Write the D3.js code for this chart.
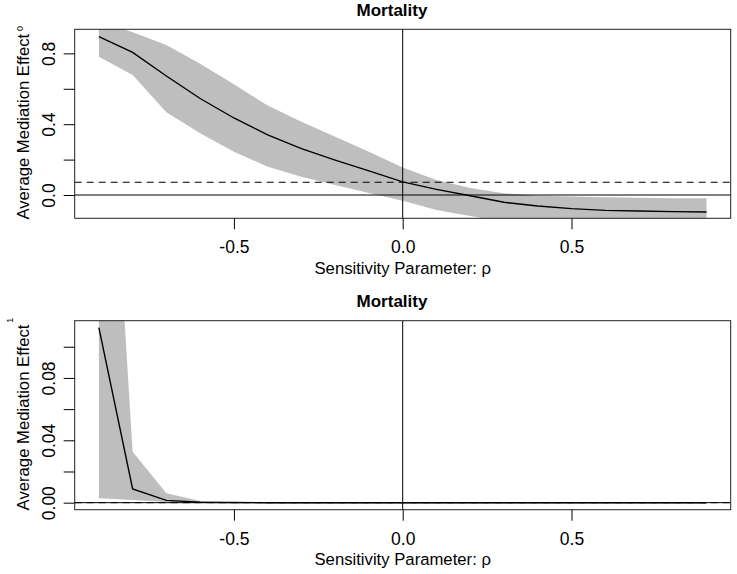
<!DOCTYPE html>
<html>
<head>
<meta charset="utf-8">
<script src="https://cdn.jsdelivr.net/npm/d3@7"></script>
<style>
  html, body { margin: 0; padding: 0; background: #fff; }
  text { font-family: "Liberation Sans", Arial, sans-serif; fill: #000; }
</style>
</head>
<body>
<svg id="chart" width="737" height="574"></svg>
<script>
// ---------------- data ----------------
const rho = [-0.9, -0.8, -0.7, -0.6, -0.5, -0.4, -0.3, -0.2, -0.1, 0.0,
             0.1, 0.2, 0.3, 0.4, 0.5, 0.6, 0.7, 0.8, 0.9];

// Panel 1 (superscript 0)
const est0   = [0.894, 0.806, 0.672, 0.545, 0.435, 0.340, 0.262, 0.197, 0.136, 0.074,
                0.032, -0.004, -0.041, -0.062, -0.077, -0.087, -0.090, -0.094, -0.096];
const upper0 = [0.985, 0.919, 0.847, 0.742, 0.626, 0.505, 0.414, 0.329, 0.245, 0.155,
                0.085, 0.040, 0.010, -0.004, -0.009, -0.013, -0.016, -0.018, -0.019];
const lower0 = [0.781, 0.678, 0.467, 0.349, 0.245, 0.160, 0.103, 0.056, 0.012, -0.033,
                -0.085, -0.119, -0.150, -0.168, -0.178, -0.184, -0.188, -0.190, -0.192];
const acme0 = 0.072;

// Panel 2 (superscript 1)
const est1   = [0.1122, 0.0088, 0.0015, 0.0003, 0.0001, 0, 0, 0, 0, 0,
                0, 0, 0, 0, 0, 0, 0, 0, 0];
const upper1 = [0.384, 0.0327, 0.0060, 0.0011, 0.0003, 0.0001, 0.00005, 0.00005, 0.00005, 0.00005,
                0.00005, 0.00005, 0.00005, 0.00005, 0.00005, 0.00005, 0.00005, 0.00005, 0.00005];
const lower1 = [0.0028, 0.0017, 0.0005, 0.0001, 0, 0, 0, 0, 0, 0,
                0, 0, 0, 0, 0, 0, 0, 0, 0];
const acme1 = 0.0;

const xTicks = [-0.5, 0.0, 0.5];
const xTickLabels = ["-0.5", "0.0", "0.5"];
const yTicks0 = [0.0, 0.2, 0.4, 0.6, 0.8];
const yLabels0 = ["0.0", "0.4", "0.8"];
const yTicks1 = [0.00, 0.02, 0.04, 0.06, 0.08, 0.10];
const yLabels1 = ["0.00", "0.04", "0.08"];

const titleText = "Mortality";
const xTitle = "Sensitivity Parameter: ρ";
const yTitle = "Average Mediation Effect";

// ---------------- layout ----------------
const svg = d3.select("#chart");
const xL = 74.7, xR = 730.7;
const x = d3.scaleLinear().domain([-0.9716, 0.9716]).range([xL, xR]);

const panels = [
  { top: 29.3, bottom: 218.3, ydom: [-0.1316, 0.936], ticks: yTicks0, labels: yLabels0,
    est: est0, up: upper0, lo: lower0, acme: acme0, sup: "0", supX: 22.7, supY: 28.5, ytitleY: 126.7 },
  { top: 320.7, bottom: 509.7, ydom: [-0.0045, 0.1167], ticks: yTicks1, labels: yLabels1,
    est: est1, up: upper1, lo: lower1, acme: acme1, sup: "1", supX: 12.7, supY: 320.3, ytitleY: 417.5 }
];

panels.forEach((p, i) => {
  const y = d3.scaleLinear().domain(p.ydom).range([p.bottom, p.top]);
  const g = svg.append("g");
  const clipId = "clip" + i;
  svg.append("clipPath").attr("id", clipId)
    .append("rect").attr("x", xL).attr("y", p.top)
    .attr("width", xR - xL).attr("height", p.bottom - p.top);

  const plot = g.append("g").attr("clip-path", `url(#${clipId})`);
  const rows = rho.map((r, k) => ({ r, e: p.est[k], u: p.up[k], l: p.lo[k] }));

  // confidence band
  plot.append("path").datum(rows)
    .attr("d", d3.area().x(d => x(d.r)).y0(d => y(d.l)).y1(d => y(d.u)))
    .attr("fill", "#bebebe").attr("stroke", "none");

  // estimate line
  plot.append("path").datum(rows)
    .attr("d", d3.line().x(d => x(d.r)).y(d => y(d.e)))
    .attr("fill", "none").attr("stroke", "#000").attr("stroke-width", 1.4);

  // reference lines
  plot.append("line").attr("x1", xL).attr("x2", xR)
    .attr("y1", y(0)).attr("y2", y(0)).attr("stroke", "#000").attr("stroke-width", 1);
  plot.append("line").attr("x1", xL).attr("x2", xR)
    .attr("y1", y(p.acme)).attr("y2", y(p.acme))
    .attr("stroke", "#000").attr("stroke-width", 1).attr("stroke-dasharray", "7,5");
  plot.append("line").attr("x1", x(0)).attr("x2", x(0))
    .attr("y1", p.top).attr("y2", p.bottom).attr("stroke", "#000").attr("stroke-width", 1);

  // box
  g.append("rect").attr("x", xL).attr("y", p.top)
    .attr("width", xR - xL).attr("height", p.bottom - p.top)
    .attr("fill", "none").attr("stroke", "#222").attr("stroke-width", 1);

  // x axis
  const xa = g.append("g").attr("transform", `translate(0,${p.bottom})`)
    .call(d3.axisBottom(x).tickValues(xTicks).tickSize(11).tickFormat((d, k) => xTickLabels[k]));
  xa.select(".domain").remove();
  xa.selectAll("line").attr("stroke", "#000");
  xa.selectAll("text").attr("y", 35).attr("dy", 0)
    .style("font-size", "17.5px").style("font-family", '"Liberation Sans", Arial, sans-serif')
    .attr("fill", "#000");

  // y axis
  const fmtMap = {};
  p.labels.forEach(s => fmtMap[(+s).toFixed(3)] = s);
  const ya = g.append("g").attr("transform", `translate(${xL},0)`)
    .call(d3.axisLeft(y).tickValues(p.ticks).tickSize(11).tickFormat(d => fmtMap[d.toFixed(3)] || ""));
  ya.select(".domain").remove();
  ya.selectAll("line").attr("stroke", "#000");
  ya.selectAll(".tick text")
    .attr("x", 0).attr("dy", 0)
    .attr("text-anchor", "middle")
    .attr("transform", "translate(" + (55 - xL) + ",0) rotate(-90)")
    .style("font-size", "17.5px").style("font-family", '"Liberation Sans", Arial, sans-serif')
    .attr("fill", "#000");

  // titles
  g.append("text").attr("x", 392).attr("y", p.top - 13.3)
    .attr("text-anchor", "middle").style("font-size", "17px").style("font-weight", "bold")
    .text(titleText);
  g.append("text").attr("x", (xL + xR) / 2).attr("y", p.bottom + 55.5)
    .attr("text-anchor", "middle").style("font-size", "16.7px")
    .text(xTitle);
  g.append("text").attr("transform", `translate(28.5,${p.ytitleY}) rotate(-90)`)
    .attr("text-anchor", "middle").style("font-size", "16.7px")
    .text(yTitle);
  g.append("text").attr("transform", `translate(${p.supX},${p.supY}) rotate(-90)`)
    .attr("text-anchor", "middle").style("font-size", "9px")
    .text(p.sup);
});
</script>
</body>
</html>
